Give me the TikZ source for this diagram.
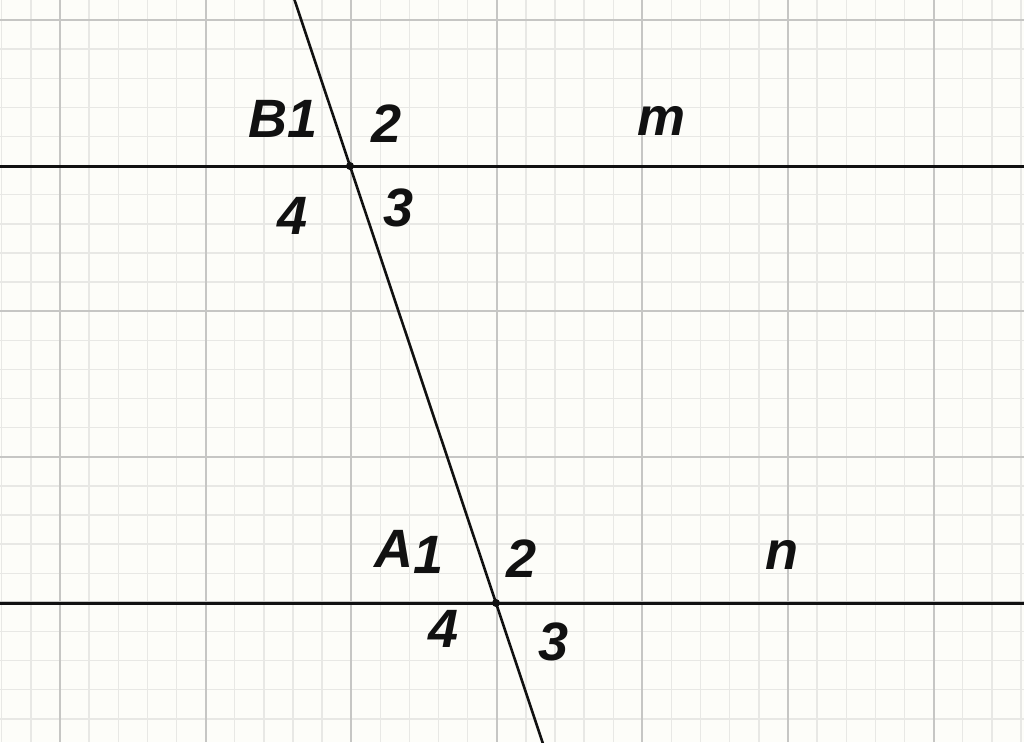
\documentclass[tikz,border=0pt]{standalone}
\usepackage{fontspec}
\setmainfont{Liberation Sans}
\usetikzlibrary{calc}
\definecolor{bgc}{HTML}{FDFDF9}
\definecolor{minorc}{HTML}{E8E8E5}
\definecolor{majorc}{HTML}{C6C6C4}
\definecolor{inkc}{HTML}{111111}
\begin{document}
\begin{tikzpicture}[x=1pt,y=-1pt,
  minorgrid/.style={minorc,line width=1.4pt},
  majorgrid/.style={majorc,line width=2pt},
  mainline/.style={inkc,line width=3pt},
  lbl/.style={inner sep=0pt,outer sep=0pt,font=\fontsize{54}{54}\selectfont\bfseries\itshape,text=inkc}]
\fill[bgc] (0,0) rectangle (1024,742);
\useasboundingbox (0,0) rectangle (1024,742);
% minor grid
\foreach \k in {-2,...,33} {
  \pgfmathsetmacro{\xx}{60+\k*29.12}
  \draw[minorgrid] (\xx,0) -- (\xx,742);
}
\foreach \k in {0,...,25} {
  \pgfmathsetmacro{\yy}{20+\k*29.12}
  \draw[minorgrid] (0,\yy) -- (1024,\yy);
}
% major grid
\foreach \k in {0,...,6} {
  \pgfmathsetmacro{\xx}{60+\k*145.6}
  \draw[majorgrid] (\xx,0) -- (\xx,742);
}
\foreach \k in {0,...,4} {
  \pgfmathsetmacro{\yy}{20+\k*145.6}
  \draw[majorgrid] (0,\yy) -- (1024,\yy);
}
% points
\coordinate (B) at (350,166);
\coordinate (A) at (496,603);
\coordinate (mL) at (0,166);
\coordinate (mR) at (1024,166);
\coordinate (nL) at (0,603);
\coordinate (nR) at (1024,603);
\draw[mainline] (mL) -- (mR);
\draw[mainline] (nL) -- (nR);
\draw[mainline,line width=2.6pt] ($(B)!-0.40!(A)$) -- ($(A)!-0.34!(B)$);
\fill[inkc] (B) circle (4);
\fill[inkc] (A) circle (4);
% labels
\node[lbl] (lB) at (283,119) {B1};
\node[lbl] (lB2) at (387,124) {2};
\node[lbl] (lB4) at (293,216) {4};
\node[lbl] (lB3) at (399,208) {3};
\node[lbl] (lm) at (661,121) {m};
\node[lbl,anchor=base west] (lA) at (374,567) {A\raisebox{-6pt}{1}};
\node[lbl] (lA2) at (522,559) {2};
\node[lbl] (lA4) at (444,629) {4};
\node[lbl] (lA3) at (554,642) {3};
\node[lbl] (ln) at (782,555) {n};
\end{tikzpicture}
\end{document}
